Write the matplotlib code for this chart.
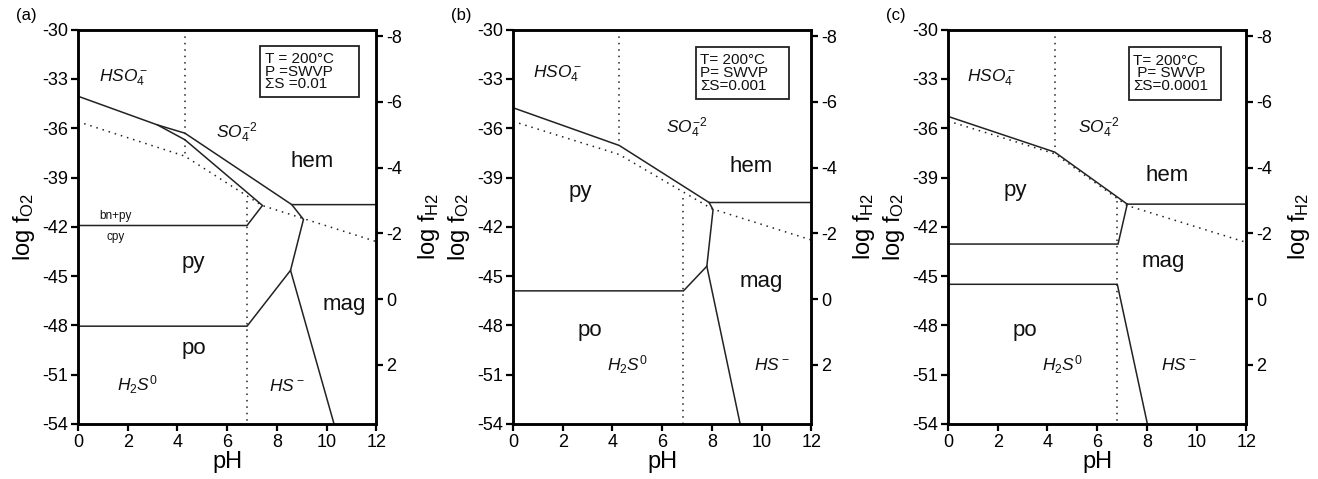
import matplotlib
matplotlib.use("Agg")
import matplotlib.pyplot as plt
from matplotlib.patches import Rectangle

plt.rcParams['font.family'] = ['Liberation Sans', 'DejaVu Sans']
plt.rcParams['mathtext.fontset'] = 'custom'
plt.rcParams['mathtext.rm'] = 'Liberation Sans'
plt.rcParams['mathtext.it'] = 'Liberation Sans:italic'
plt.rcParams['axes.unicode_minus'] = False

# log fH2 <-> log fO2 relation
def to_h2(o2):
    return -(o2 + 46.4) / 2.0

# ---- panel (a): sum S = 0.01 ----
a_solid = [
    ([0, 3.2, 4.3, 8.6, 12], [-34.05, -35.8, -36.3, -40.65, -40.65]),
    ([3.2, 4.3, 7.42, 6.8, 0], [-35.8, -36.7, -40.7, -41.92, -41.92]),
    ([8.6, 9.07, 8.55, 10.3], [-40.65, -41.55, -44.65, -54]),
    ([8.55, 6.8, 0], [-44.65, -48.05, -48.05]),
]
a_dotted = [
    ([0, 4.3, 7.4, 12], [-35.6, -37.7, -40.7, -42.9]),
    ([4.3, 4.3], [-30, -37.7]),
    ([6.8, 6.8], [-40.45, -54]),
]
a_labels = [
    ("$HSO_4^-$", 1.85, -32.95, 12.5),
    ("$SO_4^{-2}$", 6.4, -36.3, 12.5),
    ("hem", 9.4, -38.0, 16),
    ("py", 4.65, -44.2, 16),
    ("mag", 10.7, -46.7, 16),
    ("po", 4.65, -49.4, 16),
    ("$H_2S^0$", 2.4, -51.6, 12.5),
    ("$HS^-$", 8.4, -51.7, 12.5),
    ("bn+py", 1.5, -41.35, 8.5),
    ("cpy", 1.5, -42.6, 8.5),
]
a_box = ["T = 200°C", "P =SWVP", "ΣS =0.01"]

# ---- panel (b): sum S = 0.001 ----
b_solid = [
    ([0, 4.28, 7.89, 12], [-34.75, -37.05, -40.52, -40.52]),
    ([7.89, 8.05, 7.8, 9.14], [-40.52, -40.96, -44.4, -54]),
    ([7.8, 6.86, 0], [-44.4, -45.9, -45.9]),
]
b_dotted = [
    ([0, 4.28, 8.0, 12], [-35.58, -37.6, -40.9, -42.8]),
    ([4.28, 4.28], [-30, -37.05]),
    ([6.86, 6.86], [-40.25, -54]),
]
b_labels = [
    ("$HSO_4^-$", 1.8, -32.7, 12.5),
    ("$SO_4^{-2}$", 7.0, -36.0, 12.5),
    ("hem", 9.6, -38.3, 16),
    ("py", 2.7, -39.85, 16),
    ("mag", 10.0, -45.3, 16),
    ("po", 3.1, -48.3, 16),
    ("$H_2S^0$", 4.6, -50.4, 12.5),
    ("$HS^-$", 10.4, -50.4, 12.5),
]
b_box = ["T= 200°C", "P= SWVP", "ΣS=0.001"]

# ---- panel (c): sum S = 0.0001 ----
c_solid = [
    ([0, 4.29, 7.21, 12], [-35.28, -37.45, -40.62, -40.62]),
    ([7.21, 6.84, 0], [-40.62, -43.05, -43.05]),
    ([0, 6.81, 8.02], [-45.5, -45.5, -54]),
]
c_dotted = [
    ([0, 4.29, 7.2, 12], [-35.56, -37.55, -40.7, -42.95]),
    ([4.29, 4.29], [-30, -37.45]),
    ([6.81, 6.81], [-40.4, -54]),
]
c_labels = [
    ("$HSO_4^-$", 1.75, -32.9, 12.5),
    ("$SO_4^{-2}$", 6.05, -36.0, 12.5),
    ("hem", 8.8, -38.85, 16),
    ("py", 2.7, -39.8, 16),
    ("mag", 8.65, -44.1, 16),
    ("po", 3.1, -48.3, 16),
    ("$H_2S^0$", 4.6, -50.4, 12.5),
    ("$HS^-$", 9.3, -50.4, 12.5),
]
c_box = ["T= 200°C", " P= SWVP", "ΣS=0.0001"]

panels = [
    ("(a)", 0.0592, a_solid, a_dotted, a_labels, a_box, (7.34, -31.0, 3.95, -3.1)),
    ("(b)", 0.3892, b_solid, b_dotted, b_labels, b_box, (7.36, -31.06, 3.74, -3.14)),
    ("(c)", 0.7193, c_solid, c_dotted, c_labels, c_box, (7.27, -31.07, 3.73, -3.18)),
]

fig = plt.figure(figsize=(13.18, 4.79), dpi=100)

for name, left, solid, dotted, labels, box, rect in panels:
    ax = fig.add_axes([left, 0.115, 0.2263, 0.823])
    for xs, ys in solid:
        ax.plot(xs, ys, color='#222222', lw=1.1, solid_joinstyle='miter')
    for xs, ys in dotted:
        ax.plot(xs, ys, color='#222222', lw=1.1, linestyle=(0, (1, 3.2)))
    for txt, x, y, fs in labels:
        ax.text(x, y, txt, fontsize=fs, ha='center', va='center', color='#111111')

    bx, by, bw, bh = rect
    ax.add_patch(Rectangle((bx, by), bw, bh, fill=False, lw=1.3, ec='#222222'))
    ax.text(bx + 0.18, by + bh / 2, "\n".join(box), fontsize=11, va='center', ha='left',
            linespacing=0.88, color='#111111')

    ax.set_xlim(0, 12)
    ax.set_ylim(-54, -30)
    ax.set_xticks(range(0, 13, 2))
    ax.set_yticks(range(-54, -29, 3))
    ax.tick_params(direction='out', length=5, width=1.6, labelsize=13, pad=2)
    for sp in ax.spines.values():
        sp.set_linewidth(1.8)
    ax.set_xlabel("pH", fontsize=17, labelpad=0)
    ax.set_ylabel(r"log f$\mathregular{_{O2}}$", fontsize=17, labelpad=4)

    ax2 = ax.twinx()
    ax2.set_ylim(to_h2(-54), to_h2(-30))
    ax2.set_yticks([-8, -6, -4, -2, 0, 2])
    ax2.tick_params(direction='out', length=5, width=1.6, labelsize=13, pad=2)
    for sp in ax2.spines.values():
        sp.set_linewidth(1.8)
    ax2.set_ylabel(r"log f$\mathregular{_{H2}}$", fontsize=17, labelpad=10)

    fig.text(left - 0.047, 0.968, name, fontsize=12, ha='left', va='center')

fig.savefig("out.png", dpi=100)
